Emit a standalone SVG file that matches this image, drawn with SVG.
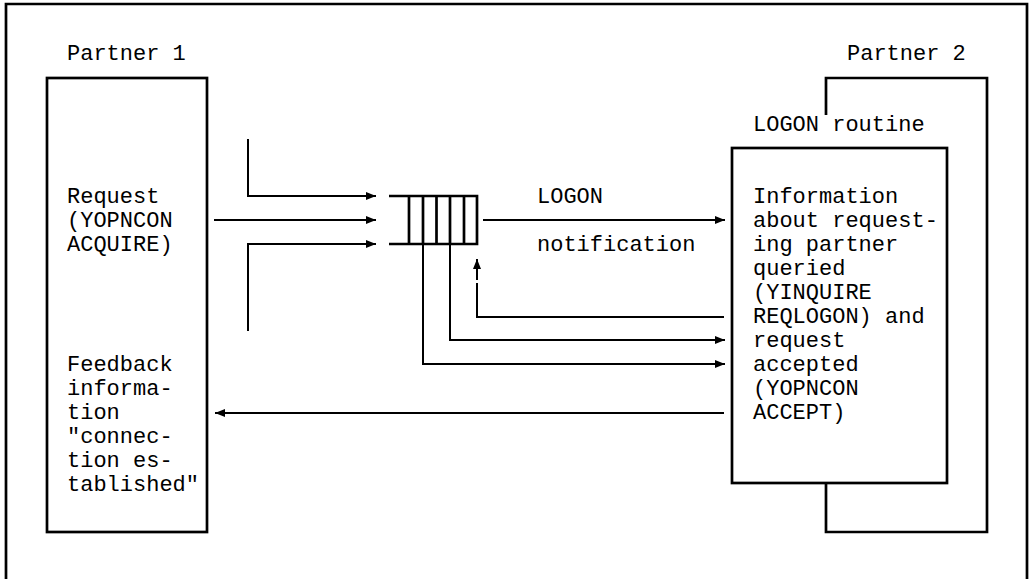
<svg xmlns="http://www.w3.org/2000/svg" width="1034" height="579" viewBox="0 0 1034 579">
<style>
.box{fill:none;stroke:#000;stroke-width:2.7}
.ln{fill:none;stroke:#000;stroke-width:2}
.ar{fill:none;stroke:#000;stroke-width:2;marker-end:url(#ah)}
text{font-family:"Liberation Mono","Courier New",monospace;font-size:22px;fill:#000}
</style>
<defs>
<marker id="ah" viewBox="0 0 10 8" refX="10" refY="4" markerWidth="5" markerHeight="4" orient="auto" markerUnits="strokeWidth">
<path d="M0,0 L10,4 L0,8 z" fill="#000"/>
</marker>
</defs>
<rect width="1034" height="579" fill="#fff"/>
<g id="frame"><path class="box" d="M6,579 V4 H1027 V579"/></g>
<g id="partner1">
<text x="67" y="60">Partner 1</text>
<rect class="box" x="47" y="78" width="160" height="454"/>
<text x="67" y="203">Request</text>
<text x="67" y="227">(YOPNCON</text>
<text x="67" y="251">ACQUIRE)</text>
<text x="67" y="371">Feedback</text>
<text x="67" y="395">informa-</text>
<text x="67" y="419">tion</text>
<text x="67" y="443">"connec-</text>
<text x="67" y="467">tion es-</text>
<text x="67" y="491">tablished"</text>
</g>
<g id="queue">
<path class="box" d="M389,196 H477 V244 H389 M409,196 V244 M423,196 V244 M436.5,196 V244 M450,196 V244 M464,196 V244"/>
</g>
<g id="partner2">
<text x="847" y="60">Partner 2</text>
<path class="box" d="M826,115 V78 H987 V532 H826 V484"/>
<text x="753" y="131">LOGON routine</text>
<rect class="box" x="732" y="148" width="215" height="335"/>
<text x="753" y="203">Information</text>
<text x="753" y="227">about request-</text>
<text x="753" y="251">ing partner</text>
<text x="753" y="275">queried</text>
<text x="753" y="299">(YINQUIRE</text>
<text x="753" y="323">REQLOGON) and</text>
<text x="753" y="347">request</text>
<text x="753" y="371">accepted</text>
<text x="753" y="395">(YOPNCON</text>
<text x="753" y="419">ACCEPT)</text>
</g>
<g id="connectors">
<path class="ar" d="M248,139 V196 H376"/>
<path class="ar" d="M214,220 H376"/>
<path class="ar" d="M248,331 V244 H376"/>
<path class="ar" d="M483,220 H725"/>
<path class="ln" d="M724,317 H477 V283"/>
<path class="ar" d="M477,280 V259"/>
<path class="ar" d="M450,244 V340 H725"/>
<path class="ar" d="M423,244 V364 H725"/>
<path class="ar" d="M724,413 H215"/>
<text x="537" y="203">LOGON</text>
<text x="537" y="251">notification</text>
</g>
</svg>
